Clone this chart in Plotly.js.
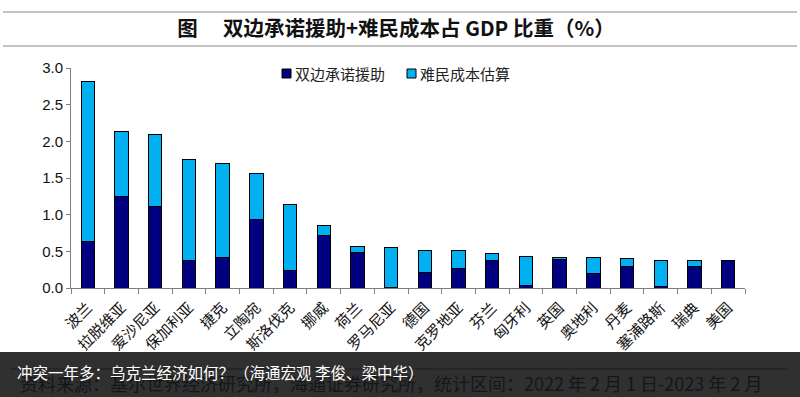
<!DOCTYPE html>
<html>
<head>
<meta charset="utf-8">
<script src="https://cdn.plot.ly/plotly-3.0.1.min.js"></script>
<style>html,body{margin:0;padding:0;background:#fff;}#chart{width:800px;height:397px;}</style>
</head>
<body>
<div id="chart"></div>
<script>
const categories = ["波兰","拉脱维亚","爱沙尼亚","保加利亚","捷克","立陶宛","斯洛伐克","挪威","荷兰","罗马尼亚","德国","克罗地亚","芬兰","匈牙利","英国","奥地利","丹麦","塞浦路斯","瑞典","美国"];
const bilateralAid = [0.64,1.25,1.11,0.38,0.42,0.93,0.24,0.71,0.48,0.01,0.21,0.26,0.37,0.04,0.39,0.20,0.30,0.02,0.29,0.37];
const refugeeCost = [2.17,0.89,0.98,1.37,1.28,0.63,0.90,0.14,0.08,0.54,0.30,0.25,0.10,0.39,0.02,0.21,0.10,0.36,0.08,0.00];
const seriesNames = ["双边承诺援助","难民成本估算"];
const seriesColors = ["#000080","#00B0F0"];
const yTicks = [0,0.5,1.0,1.5,2.0,2.5,3.0];
const yTickText = ["0.0","0.5","1.0","1.5","2.0","2.5","3.0"];
const titleText = "图　 双边承诺援助+难民成本占 GDP 比重（%）";
const captionText = "冲突一年多：乌克兰经济如何？（海通宏观 李俊、梁中华）";
const sourceText = "资料来源：基尔世界经济研究所，海通证券研究所，统计区间：2022 年 2 月 1 日-2023 年 2 月";

// plot area pixel geometry
const L = 71, R = 745, T = 68, B = 288;
const px = x => (x - L) / (R - L);
const py = y => (B - y) / (B - T);

const cjk = '"Noto Sans CJK SC", "Noto Sans", sans-serif';

const traces = seriesNames.map((n, i) => ({
  type:'bar', name:n, x:categories, y:[bilateralAid, refugeeCost][i],
  marker:{color:seriesColors[i], line:{color:'#000000', width:1}}
}));

// custom legend (square swatch right before text)
const legendX = [282, 407];
const legendShapes = [], legendAnn = [];
legendX.forEach((x, i) => {
  legendShapes.push({type:'rect', xref:'paper', yref:'paper', x0:px(x), x1:px(x+9), y0:py(78), y1:py(69),
    fillcolor:seriesColors[i], line:{color:'#000000', width:1}});
  legendAnn.push({xref:'paper', yref:'paper', x:px(x+11), y:py(73.5), xanchor:'left', yanchor:'middle',
    showarrow:false, text:seriesNames[i], font:{family:cjk, size:15, color:'#222'}});
});

const layout = {
  width:800, height:397,
  margin:{l:L, r:800-R, t:T, b:397-B, pad:0},
  paper_bgcolor:'#ffffff', plot_bgcolor:'#ffffff',
  barmode:'stack', bargap:0.6,
  showlegend:false,
  title:{text:'<b>'+titleText+'</b>', x:0.495, xref:'container', xanchor:'center',
         y:1-29/397, yref:'container', yanchor:'middle',
         font:{family:cjk, size:20.5, color:'#111'}},
  xaxis:{type:'category', showgrid:false, zeroline:false,
         showline:true, linecolor:'#7f7f7f', linewidth:1,
         ticks:'outside', tickson:'boundaries', ticklen:5, tickcolor:'#7f7f7f',
         ticklabelstandoff:4,
         tickangle:-45, tickfont:{family:cjk, size:15, color:'#111'}},
  yaxis:{range:[0,3], tickvals:yTicks, ticktext:yTickText, showgrid:false, zeroline:false,
         showline:true, linecolor:'#7f7f7f', linewidth:1,
         ticks:'outside', ticklen:4, tickcolor:'#7f7f7f',
         tickfont:{family:'"Liberation Sans", Arial, sans-serif', size:15, color:'#111'}},
  shapes:[
    {type:'line', xref:'paper', yref:'paper', x0:px(3), x1:px(797), y0:py(12), y1:py(12),
     line:{color:'#8a8a8a', width:1.2}},
    {type:'line', xref:'paper', yref:'paper', x0:px(3), x1:px(797), y0:py(46), y1:py(46),
     line:{color:'#8a8a8a', width:1.2}},
    ...legendShapes,
    {type:'rect', xref:'paper', yref:'paper', layer:'above', x0:px(-5), x1:px(805), y0:py(352), y1:py(400),
     fillcolor:'#303030', line:{width:0}},
    {type:'line', xref:'paper', yref:'paper', layer:'above', x0:px(10), x1:px(788), y0:py(369), y1:py(369),
     line:{color:'#1c1c1c', width:1}}
  ],
  annotations:[
    ...legendAnn,
    {xref:'paper', yref:'paper', x:px(18), y:py(383), xanchor:'left', yanchor:'middle', showarrow:false,
     text:sourceText, font:{family:cjk, size:18, color:'#161616'}},
    {xref:'paper', yref:'paper', x:px(15), y:py(372), xanchor:'left', yanchor:'middle', showarrow:false,
     text:captionText, font:{family:cjk, size:15.5, color:'#ffffff'}}
  ]
};

Plotly.newPlot('chart', traces, layout, {displayModeBar:false, staticPlot:true});
</script>
</body>
</html>
